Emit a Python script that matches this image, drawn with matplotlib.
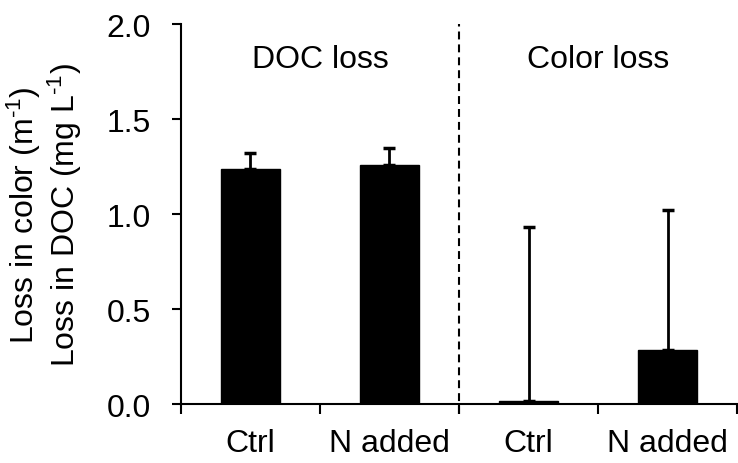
import matplotlib
matplotlib.use("Agg")
import matplotlib.pyplot as plt
import numpy as np

plt.rcParams['font.family'] = ['Liberation Sans', 'DejaVu Sans']
plt.rcParams['mathtext.fontset'] = 'custom'
plt.rcParams['mathtext.rm'] = 'Liberation Sans'
plt.rcParams['mathtext.it'] = 'Liberation Sans:italic'

# data
groups = ["DOC loss", "Color loss"]
categories = ["Ctrl", "N added", "Ctrl", "N added"]
means = [1.237, 1.258, 0.016, 0.284]
err_up = [0.085, 0.092, 0.914, 0.736]
yticks = [0.0, 0.5, 1.0, 1.5, 2.0]

fig = plt.figure(figsize=(7.38, 4.64), dpi=100)
ax = fig.add_axes([0.245, 0.127, 0.754, 0.819])

x = np.arange(len(categories)) + 0.5
ax.bar(x, means, width=0.42, color="black", edgecolor="black",
       yerr=[np.zeros(len(err_up)), err_up], capsize=4,
       error_kw=dict(elinewidth=2.0, capthick=2.5, ecolor="black"))

# dashed separator between groups
ax.plot([2, 2], [-0.05, 2.0], ls=(0, (3.8, 2.4)), color="black", lw=1.5,
        clip_on=False)

ax.text(1.0, 1.775, groups[0], ha="center", va="baseline", fontsize=23)
ax.text(3.0, 1.775, groups[1], ha="center", va="baseline", fontsize=23)

ax.set_xlim(0, 4)
ax.set_ylim(0, 2.0)
ax.set_xticks([0, 1, 2, 3, 4])
ax.set_xticklabels([])
ax.set_xticks(x, minor=True)
ax.set_xticklabels(categories, minor=True)
ax.tick_params(axis="x", which="minor", length=0, pad=17, labelsize=23)
ax.tick_params(axis="x", which="major", length=7, width=1.5, direction="out")
ax.set_yticks(yticks)
ax.set_yticklabels(["%.1f" % t for t in yticks])
ax.tick_params(axis="y", length=6.5, width=1.5, pad=15, labelsize=23)

ax.spines['right'].set_visible(False)
ax.spines['top'].set_visible(False)
ax.spines['left'].set_linewidth(1.5)
ax.spines['bottom'].set_linewidth(1.5)

ax.set_ylabel("Loss in color (m$^{\\text{-1}}$)\nLoss in DOC (mg L$^{\\text{-1}}$)",
              fontsize=23, labelpad=16, linespacing=1.1)

fig.savefig("out.png", dpi=100)
